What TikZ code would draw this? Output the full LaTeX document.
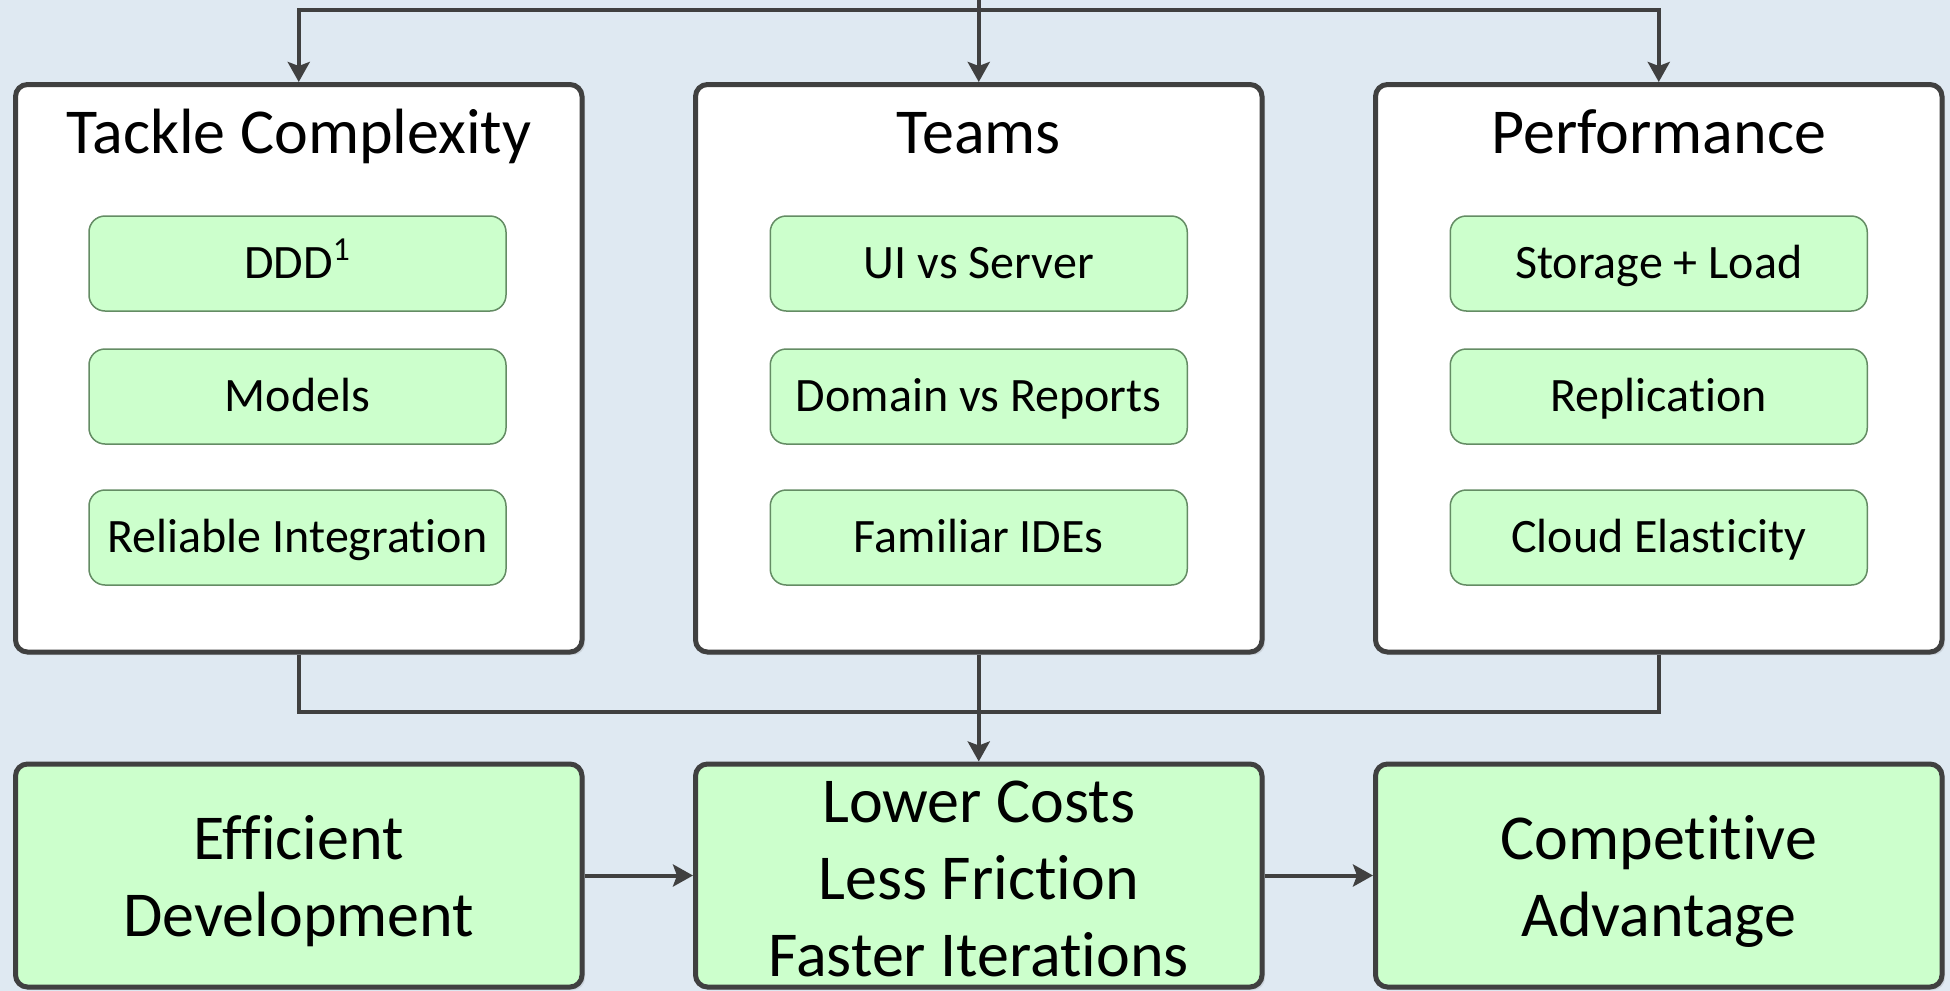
\documentclass[tikz,border=0pt]{standalone}
\usepackage{fontspec}
\setmainfont{Carlito}[Ligatures=NoCommon]
\usetikzlibrary{arrows.meta,shadows}

\definecolor{bgblue}{RGB}{223,233,242}
\definecolor{linegray}{RGB}{64,64,64}
\definecolor{mint}{RGB}{204,255,204}
\definecolor{mintedge}{RGB}{100,140,100}
\definecolor{shadowgray}{RGB}{203,211,219}

\tikzset{
  pillar/.style={draw=linegray, line width=2.5pt, fill=white, rounded corners=6pt,
    minimum width=283.25pt, minimum height=283.75pt, inner sep=0pt,
    drop shadow={shadow xshift=1.5pt, shadow yshift=-1.5pt, fill=shadowgray, opacity=1}},
  outcome/.style={draw=linegray, line width=2.5pt, fill=mint, rounded corners=6pt,
    minimum width=283.25pt, minimum height=111.5pt, inner sep=0pt,
    drop shadow={shadow xshift=1.5pt, shadow yshift=-1.5pt, fill=shadowgray, opacity=1}},
  % base anchor of a multi-line node sits on its last line
  outcometext/.style={anchor=base, inner sep=0pt, align=center,
    font=\fontsize{32}{38.5}\selectfont},
  pillartitle/.style={anchor=base, inner sep=0pt, font=\fontsize{32}{38}\selectfont},
  item/.style={draw=mintedge, line width=0.75pt, fill=mint, rounded corners=8pt,
    minimum width=208.5pt, minimum height=47.5pt, inner sep=0pt,
    text height=15.46pt, text depth=0pt, font=\fontsize{24}{28}\selectfont},
  conn/.style={draw=linegray, line width=2pt},
  flow/.style={conn, -{Stealth[length=10pt, width=11pt, inset=2pt]}},
}

\begin{document}
\begin{tikzpicture}[x=0.5pt, y=-0.5pt]
  \useasboundingbox (0,0) rectangle (1950,991);
  \fill[bgblue] (0,0) rectangle (1950,991);

  % three pillars
  \node[pillar] (tc)    at (298.75,368.25) {};
  \node[pillar] (teams) at (978.75,368.25) {};
  \node[pillar] (perf)  at (1658.75,368.25) {};

  \node[pillartitle] (tcT)    at (298.75,153) {Tackle Complexity};
  \node[pillartitle] (teamsT) at (978.75,153) {Teams};
  \node[pillartitle] (perfT)  at (1658.75,153) {Performance};

  % items inside the pillars
  \node[item] (ddd)    at (297.5,263.5) {DDD\textsuperscript{1}};
  \node[item] (models) at (297.5,396.5) {Models};
  \node[item] (relint) at (297.5,537.5) {Reliable Integration};

  \node[item] (uisrv)  at (978.75,263.5) {UI vs Server};
  \node[item] (domrep) at (978.75,396.5) {Domain vs Reports};
  \node[item] (ides)   at (978.75,537.5) {Familiar IDEs};

  \node[item] (store)  at (1658.75,263.5) {Storage + Load};
  \node[item] (repl)   at (1658.75,396.5) {Replication};
  \node[item] (cloud)  at (1658.75,537.5) {Cloud Elasticity};

  % outcomes
  \node[outcome] (eff)  at (298.75,875.5)  {};
  \node[outcome] (low)  at (978.75,875.5)  {};
  \node[outcome] (comp) at (1658.75,875.5) {};

  \node[outcometext] (effT)  at (298.75,936.6)  {Efficient\\Development};
  \node[outcometext] (lowT)  at (978.75,976.6)  {Lower Costs\\Less Friction\\Faster Iterations};
  \node[outcometext] (compT) at (1658.75,936.6) {Competitive\\Advantage};

  % distribution from the top
  \coordinate (feed) at (978.75,0);
  \coordinate (bus)  at (978.75,10);
  \draw[flow] (feed) -- (teams.north);
  \draw[flow] (bus) -| (tc.north);
  \draw[flow] (bus) -| (perf.north);

  % merge into the outcome row
  \coordinate (merge) at (978.75,711.5);
  \draw[conn] (tc.south) |- (merge);
  \draw[conn] (perf.south) |- (merge);
  \draw[flow] (teams.south) -- (low.north);

  % outcome chain
  \draw[flow] (eff.east) -- (low.west);
  \draw[flow] (low.east) -- (comp.west);
\end{tikzpicture}
\end{document}
